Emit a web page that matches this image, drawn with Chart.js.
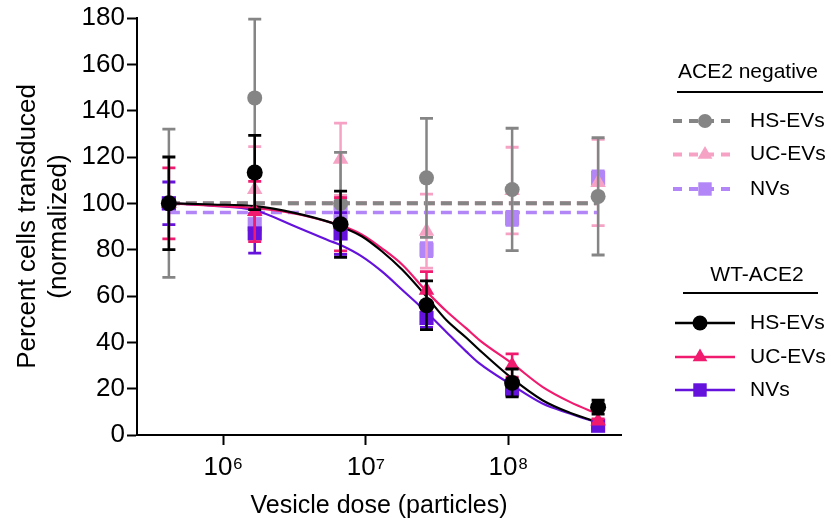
<!DOCTYPE html>
<html><head><meta charset="utf-8">
<script src="https://cdn.jsdelivr.net/npm/chart.js@4.4.0/dist/chart.umd.min.js"></script>
<style>html,body{margin:0;padding:0;background:#fff;}#wrap{width:831px;height:518px;position:relative;}</style>
</head><body><div id="wrap"><canvas id="c" width="831" height="518"></canvas></div>
<script>
// ---- data ----
const doses = [4.15e5, 1.66e6, 6.64e6, 2.66e7, 1.06e8, 4.25e8];
const xTicks = [1e6, 1e7, 1e8];
const xTickLabels = ['10\u2076', '10\u2077', '10\u2078'];
const yTicks = [0, 20, 40, 60, 80, 100, 120, 140, 160, 180];

// ACE2 negative cells
const negHS = [100, 145.5, 100, 111, 106, 103];
const negHSErr = [32, 34, 22, 25.7, 26.4, 25.3];
const negUC = [100, 106, 119, 88, 105.5, 109];
const negUCErr = [0, 18.5, 15.6, 16, 18.7, 18.6];
const negNV = [100, 91, 96, 80, 93.5, 111];
const negNVErr = [0, 4, 4, 3, 3, 3];

// WT-ACE2 cells
const wtHS = [100, 113.3, 91, 56, 22.5, 12];
const wtHSErr = [20, 16, 14.3, 10.5, 6, 3];
const wtUC = [100, 96.5, 91, 62.5, 30, 6];
const wtUCErr = [15.3, 13, 11.5, 8, 5, 1];
const wtNV = [100, 87, 87, 50.5, 20, 4];
const wtNVErr = [9.2, 8.5, 9, 4, 3, 1];

// fitted curves
const fitX = [4.15e5, 8.3e5, 1.66e6, 3.2e6, 5.48e6, 6.64e6, 9.4e6, 1.3e7, 1.8e7, 2.66e7, 3.66e7, 5.06e7, 6.25e7, 1.06e8, 1.73e8, 2.69e8, 4.25e8];
const fitWtHS = [100, 99.5, 98.8, 95.8, 92, 90, 85.7, 79.2, 71.3, 59.7, 49.6, 42, 36.7, 24.4, 15, 9.6, 5.5];
const fitWtUC = [100, 99, 98, 95.5, 92, 90.5, 86.5, 80.5, 73.5, 62, 53.5, 46, 41, 30.9, 20.8, 14.3, 9];
const fitWtNV = [100, 99, 97, 90, 84, 82, 77, 70.5, 62.6, 53, 44.5, 36, 30.9, 21.5, 13.6, 9.3, 5.2];
const fitNegX = [4.15e5, 4.25e8];
const fitNegHS = [100, 100];
const fitNegUC = [100, 100];
const fitNegNV = [96, 96];

// ---- styles ----
const C = {
  gray: '#858585', lpink: '#f6a2c5', lpurple: '#b286f6',
  black: '#000000', pink: '#f01a6e', purple: '#6512dc'
};
const FONT = '"Liberation Sans", Arial, Helvetica, sans-serif';

const pts = ys => doses.map((x, i) => ({x, y: ys[i]}));
const fitPts = (xs, ys) => xs.map((x, i) => ({x, y: ys[i]}));
const markerDS = (label, ys, errs, color, style, r, order) => ({
  label, data: pts(ys), errors: errs, showLine: false,
  pointStyle: style, pointRadius: r, pointHoverRadius: r,
  backgroundColor: color, borderColor: color, pointBorderWidth: 0, order
});
const fitDS = (label, xs, ys, color, dash, w, order) => ({
  label, data: fitPts(xs, ys), showLine: true, pointRadius: 0, pointHoverRadius: 0,
  borderColor: color, backgroundColor: color, borderWidth: w, borderDash: dash,
  cubicInterpolationMode: 'monotone', fill: false, order
});

const datasets = [
  fitDS('fit neg UC', fitNegX, fitNegUC, C.lpink, [11, 6], 4, 20),
  fitDS('fit neg HS', fitNegX, fitNegHS, C.gray, [11, 6], 4, 19),
  fitDS('fit neg NV', fitNegX, fitNegNV, C.lpurple, [11, 6], 3.5, 18),
  fitDS('fit wt NV', fitX, fitWtNV, C.purple, [], 2.2, 17),
  fitDS('fit wt UC', fitX, fitWtUC, C.pink, [], 2.2, 16),
  fitDS('fit wt HS', fitX, fitWtHS, C.black, [], 2.2, 15),
  markerDS('neg NVs', negNV, negNVErr, C.lpurple, 'rect', 10, 6),
  markerDS('neg UC-EVs', negUC, negUCErr, C.lpink, 'triangle', 9, 5),
  markerDS('neg HS-EVs', negHS, negHSErr, C.gray, 'circle', 7.5, 4),
  markerDS('WT NVs', wtNV, wtNVErr, C.purple, 'rect', 10, 3),
  markerDS('WT UC-EVs', wtUC, wtUCErr, C.pink, 'triangle', 9, 2),
  markerDS('WT HS-EVs', wtHS, wtHSErr, C.black, 'circle', 8, 1)
];

const errorBars = {
  id: 'errorBars',
  beforeDatasetDraw(chart, args) {
    const ds = chart.data.datasets[args.index];
    if (!ds.errors) return;
    const {ctx, scales: {x, y}} = chart;
    ctx.save();
    ctx.strokeStyle = ds.borderColor;
    ds.data.forEach((p, i) => {
      const e = ds.errors[i];
      if (!e) return;
      const px = x.getPixelForValue(p.x);
      const y1 = y.getPixelForValue(p.y + e), y2 = y.getPixelForValue(p.y - e);
      ctx.lineWidth = 2.5;
      ctx.beginPath(); ctx.moveTo(px, y1); ctx.lineTo(px, y2); ctx.stroke();
      ctx.lineWidth = 2.8;
      ctx.beginPath();
      ctx.moveTo(px - 6.5, y1); ctx.lineTo(px + 6.5, y1);
      ctx.moveTo(px - 6.5, y2); ctx.lineTo(px + 6.5, y2);
      ctx.stroke();
    });
    ctx.restore();
  }
};

function marker(ctx, style, color, cx, cy, r) {
  ctx.fillStyle = color;
  ctx.beginPath();
  if (style === 'circle') ctx.arc(cx, cy, r, 0, Math.PI * 2);
  else if (style === 'rect') { const s = r * Math.SQRT1_2; ctx.rect(cx - s, cy - s, 2 * s, 2 * s); }
  else { ctx.moveTo(cx, cy - r); ctx.lineTo(cx + r * 0.866, cy + r * 0.5); ctx.lineTo(cx - r * 0.866, cy + r * 0.5); ctx.closePath(); }
  ctx.fill();
}

const groupLegend = {
  id: 'groupLegend',
  afterDraw(chart) {
    const ctx = chart.ctx;
    const groups = [
      {title: 'ACE2 negative', tx: 748, ty: 72, ux1: 677, ux2: 823, uy: 92, lx1: 673, lx2: 737, mx: 705, dashed: true,
       items: [['HS-EVs', C.gray, 'circle', 7, 121], ['UC-EVs', C.lpink, 'triangle', 8.5, 154.5], ['NVs', C.lpurple, 'rect', 9.5, 189]]},
      {title: 'WT-ACE2', tx: 757, ty: 275, ux1: 683, ux2: 818, uy: 293, lx1: 675, lx2: 735, mx: 700, dashed: false,
       items: [['HS-EVs', C.black, 'circle', 7.5, 323], ['UC-EVs', C.pink, 'triangle', 8.5, 357], ['NVs', C.purple, 'rect', 9.5, 390]]}
    ];
    ctx.save();
    groups.forEach(g => {
      ctx.fillStyle = '#000';
      ctx.font = '21px ' + FONT;
      ctx.textAlign = 'center'; ctx.textBaseline = 'middle';
      ctx.fillText(g.title, g.tx, g.ty);
      ctx.strokeStyle = '#000'; ctx.lineWidth = 2; ctx.setLineDash([]);
      ctx.beginPath(); ctx.moveTo(g.ux1, g.uy); ctx.lineTo(g.ux2, g.uy); ctx.stroke();
      g.items.forEach(([label, color, style, r, yy]) => {
        ctx.strokeStyle = color;
        ctx.lineWidth = g.dashed ? 4 : 2.5;
        ctx.setLineDash(g.dashed ? [9, 7] : []);
        ctx.beginPath(); ctx.moveTo(g.lx1, yy); ctx.lineTo(g.lx2, yy); ctx.stroke();
        ctx.setLineDash([]);
        marker(ctx, style, color, g.mx, yy, r);
        ctx.fillStyle = '#000';
        ctx.textAlign = 'left';
        ctx.fillText(label, 750, yy);
      });
    });
    ctx.restore();
  }
};

new Chart(document.getElementById('c'), {
  type: 'line',
  data: {datasets},
  plugins: [errorBars, groupLegend],
  options: {
    responsive: false, animation: false, devicePixelRatio: 1,
    layout: {padding: {left: 0, right: 210, top: 18, bottom: 0}},
    plugins: {legend: {display: false}, tooltip: {enabled: false}},
    scales: {
      x: {
        type: 'logarithmic', min: 2.48e5, max: 6.15e8,
        afterBuildTicks: s => { s.ticks = xTicks.map(v => ({value: v})); },
        afterFit: s => { s.height = 83; },
        ticks: {callback: v => xTickLabels[xTicks.indexOf(v)], font: {family: FONT, size: 26}, color: '#000', padding: 7, maxRotation: 0, autoSkip: false},
        grid: {drawOnChartArea: false, drawTicks: true, tickLength: 10, tickWidth: 2, tickColor: '#000'},
        border: {display: true, color: '#000', width: 2},
        title: {display: true, text: 'Vesicle dose (particles)', font: {family: FONT, size: 25, lineHeight: 0.9}, color: '#000', padding: {top: 0, bottom: 1}}
      },
      y: {
        min: 0, max: 180,
        afterBuildTicks: s => { s.ticks = yTicks.map(v => ({value: v})); },
        afterFit: s => { s.width = 137; },
        ticks: {font: {family: FONT, size: 26}, color: '#000', padding: 2},
        grid: {drawOnChartArea: false, drawTicks: true, tickLength: 10, tickWidth: 2, tickColor: '#000'},
        border: {display: true, color: '#000', width: 2},
        title: {display: true, text: ['Percent cells transduced', '(normalized)'], font: {family: FONT, size: 26, lineHeight: 1.2}, color: '#000', padding: {top: 12, bottom: 0}}
      }
    }
  }
});
</script></body></html>
